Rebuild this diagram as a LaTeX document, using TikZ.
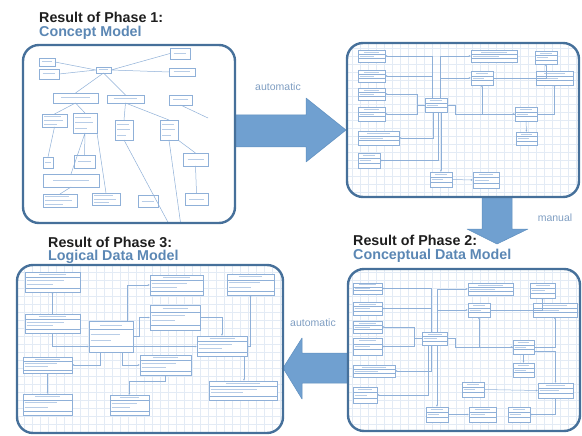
\documentclass[tikz,border=0pt]{standalone}
\usepackage{fontspec}
\setmainfont{Liberation Sans}
\usetikzlibrary{arrows.meta,calc}
\definecolor{PMRim}{HTML}{46709A}
\definecolor{PMArrow}{HTML}{70A0D0}
\definecolor{PMArrowEdge}{HTML}{5F8FBF}
\definecolor{PMInk}{HTML}{1E1E1E}
\definecolor{PMTitle}{HTML}{5B87B4}
\definecolor{PMLabel}{HTML}{7F9EC2}
\definecolor{PMLine}{HTML}{8FB0D8}
\definecolor{PMText}{HTML}{B8CDE7}
\definecolor{PMGrid}{HTML}{E3EBF5}
\tikzset{
  sz/.style 2 args={minimum width=#1,minimum height=#2},
  panel/.style={fill=white,anchor=north west,inner sep=0pt,outer sep=0pt,rounded corners=16pt},
  rim/.style={draw=PMRim,line width=2.4pt,rounded corners=16pt},
  bigarrow/.style={fill=PMArrow,draw=PMArrowEdge,line width=.5pt,line join=round},
  phasehead/.style={anchor=west,inner sep=0pt,text=PMInk,font=\fontsize{14.3}{16}\selectfont\bfseries},
  phasename/.style={phasehead,text=PMTitle},
  steplabel/.style={text=PMLabel,font=\fontsize{10.5}{12}\selectfont},
  gridlines/.style={draw=PMGrid,line width=.35pt},
  link/.style={PMLine,line width=.5pt},
  linkto/.style={link,-{Latex[length=2.2pt,width=2pt]}},
  box/.style={draw=PMLine,line width=.5pt,fill=white,anchor=north west,inner sep=0pt,outer sep=0pt},
  cbox/.style={box,path picture={
      \draw[PMText,line width=1pt] let \p1=(path picture bounding box.north west),
        \p2=(path picture bounding box.south east) in
        ({\x1+0.18*(\x2-\x1)},{0.5*(\y1+\y2)}) -- ({\x2-0.18*(\x2-\x1)},{0.5*(\y1+\y2)});}},
  cboxtall/.style={box,path picture={
      \draw[PMText,line width=1pt] let \p1=(path picture bounding box.north west),
        \p2=(path picture bounding box.south east) in
        ({\x1+2pt},{\y1+0.22*(\y2-\y1)}) -- ({\x1+0.75*(\x2-\x1)},{\y1+0.22*(\y2-\y1)})
        ({\x1+2pt},{\y1+0.5*(\y2-\y1)}) -- ({\x1+0.85*(\x2-\x1)},{\y1+0.5*(\y2-\y1)})
        ({\x1+2pt},{\y1+0.78*(\y2-\y1)}) -- ({\x1+0.6*(\x2-\x1)},{\y1+0.78*(\y2-\y1)});}},
  cls/.style={box,path picture={
      \draw[PMLine,line width=.4pt] let \p1=(path picture bounding box.north west),
        \p2=(path picture bounding box.south east) in
        (\x1,{\y1+0.34*(\y2-\y1)}) -- (\x2,{\y1+0.34*(\y2-\y1)})
        (\x1,{\y1+0.67*(\y2-\y1)}) -- (\x2,{\y1+0.67*(\y2-\y1)});
      \draw[PMText,line width=.9pt] let \p1=(path picture bounding box.north west),
        \p2=(path picture bounding box.south east) in
        ({\x1+0.22*(\x2-\x1)},{\y1+0.17*(\y2-\y1)}) -- ({\x2-0.22*(\x2-\x1)},{\y1+0.17*(\y2-\y1)})
        ({\x1+1.5pt},{\y1+0.5*(\y2-\y1)}) -- ({\x1+0.6*(\x2-\x1)},{\y1+0.5*(\y2-\y1)});}},
  tbl/.style={box,path picture={
      \draw[PMLine,line width=.4pt] let \p1=(path picture bounding box.north west),
        \p2=(path picture bounding box.south east) in
        (\x1,{\y1+0.28*(\y2-\y1)}) -- (\x2,{\y1+0.28*(\y2-\y1)})
        (\x1,{\y1+0.8*(\y2-\y1)}) -- (\x2,{\y1+0.8*(\y2-\y1)});
      \draw[PMText,line width=.9pt] let \p1=(path picture bounding box.north west),
        \p2=(path picture bounding box.south east) in
        ({\x1+0.25*(\x2-\x1)},{\y1+0.14*(\y2-\y1)}) -- ({\x2-0.25*(\x2-\x1)},{\y1+0.14*(\y2-\y1)})
        ({\x1+1.5pt},{\y1+0.42*(\y2-\y1)}) -- ({\x1+0.7*(\x2-\x1)},{\y1+0.42*(\y2-\y1)})
        ({\x1+1.5pt},{\y1+0.62*(\y2-\y1)}) -- ({\x1+0.5*(\x2-\x1)},{\y1+0.62*(\y2-\y1)});}},
}
\begin{document}
\begin{tikzpicture}[x=1pt,y=-1pt]
  \useasboundingbox (0,0) rectangle (582,436);

  % titles
  \node[phasehead] (t1) at (39,17) {Result of Phase 1:};
  \node[phasename] (n1) at (39,33) {Concept Model};
  \node[phasehead] (t2) at (353,240) {Result of Phase 2:};
  \node[phasename] (n2) at (353,256) {Conceptual Data Model};
  \node[phasehead] (t3) at (48,242) {Result of Phase 3:};
  \node[phasename] (n3) at (48,257) {Logical Data Model};

  % block arrows between the phases
  \fill[bigarrow] (233,115) -- (306,115) -- (306,98) -- (346,130) -- (306,162)
    -- (306,147) -- (233,147) -- cycle;
  \fill[bigarrow] (482,196) -- (482,229) -- (467,229) -- (497,244) -- (528,229)
    -- (512,229) -- (512,196) -- cycle;
  \fill[bigarrow] (351,353) -- (302,353) -- (302,338) -- (283,368) -- (302,399)
    -- (302,383) -- (351,383) -- cycle;
  \node[steplabel] (a1) at (278,87) {automatic};
  \node[steplabel] (a2) at (555,218) {manual};
  \node[steplabel] (a3) at (313,323) {automatic};

  % phase 1: concept model
  \node[panel,sz={212}{178}] (pone) at (23,45) {};
  \begin{scope}
    \clip[rounded corners=16pt] (pone.north west) rectangle (pone.south east);
    \node[cbox,sz={16}{8}] (c1) at (39,58) {};
    \node[cbox,sz={20}{10}] (c2) at (39,69) {};
    \node[cbox,sz={15}{6}] (c0) at (96,67) {};
    \node[cbox,sz={20}{11}] (c3) at (170,48) {};
    \node[cbox,sz={26}{8}] (c4) at (169,68) {};
    \node[cbox,sz={45}{10}] (c5) at (53,93) {};
    \node[cbox,sz={37}{8}] (c6) at (107,95) {};
    \node[cbox,sz={23}{10}] (c7) at (169,95) {};
    \node[cboxtall,sz={25}{13}] (c8) at (42,114) {};
    \node[cboxtall,sz={24}{20}] (c9) at (73,113) {};
    \node[cboxtall,sz={18}{20}] (c10) at (115,120) {};
    \node[cboxtall,sz={18}{20}] (c11) at (160,120) {};
    \node[cbox,sz={10}{11}] (c12) at (43,157) {};
    \node[cbox,sz={21}{13}] (c13) at (74,155) {};
    \node[cbox,sz={25}{13}] (c14) at (183,153) {};
    \node[cbox,sz={56}{13}] (c15) at (43,174) {};
    \node[cboxtall,sz={34}{13}] (c16) at (43,194) {};
    \node[cboxtall,sz={28}{12}] (c17) at (92,193) {};
    \node[cbox,sz={20}{12}] (c18) at (138,195) {};
    \node[cbox,sz={23}{12}] (c19) at (185,193) {};
    \coordinate (c7end) at (208,118);
    \coordinate (cbot1) at (170,226);
    \coordinate (cbot2) at (181,226);
    \draw[link] (c1.east) -- (c0.west) (c2.east) -- (c0.west)
      (c0.east) -- (c3.west) (c0.east) -- (c4.west)
      (c0.south) -- (c5.north) (c0.south) -- (c6.north)
      (c5.south) -- (c8.north) (c5.south) -- (c9.north)
      (c6.south) -- (c10.north) (c6.south) -- (c11.north)
      (c7.south) -- (c7end)
      (c8.south) -- (c12.north) (c9.south) -- (c13.north)
      (c9.south) -- (c15.north) (c9.south east) -- (c17.north)
      (c10.south) -- (cbot1) (c11.south) -- (cbot2)
      (c11.south east) -- (c14.north) (c14.south) -- (c19.north)
      (c15.south) -- (c16.north);
  \end{scope}
  \draw[rim] (pone.north west) rectangle (pone.south east);

  % phase 2: conceptual data model
  \node[panel,sz={232}{154}] (ptwo) at (347,43) {};
  \begin{scope}
    \clip[rounded corners=16pt] (ptwo.north west) rectangle (ptwo.south east);
    \draw[gridlines] (ptwo.north west) grid[step=8pt] (ptwo.south east);
    \node[cls,sz={27}{12}] (m1) at (358,50) {};
    \node[cls,sz={27}{12}] (m2) at (358,70) {};
    \node[cls,sz={27}{12}] (m3) at (358,88) {};
    \node[cls,sz={27}{14}] (m4) at (358,107) {};
    \node[cls,sz={41}{14}] (m5) at (358,131) {};
    \node[cls,sz={22}{15}] (m6) at (358,153) {};
    \node[cls,sz={22}{14}] (m0) at (425,98) {};
    \node[cls,sz={46}{12}] (m7) at (471,50) {};
    \node[cls,sz={22}{14}] (m8) at (471,71) {};
    \node[cls,sz={22}{13}] (m9) at (535,51) {};
    \node[cls,sz={37}{14}] (m10) at (536,71) {};
    \node[cls,sz={22}{14}] (m11) at (515,107) {};
    \node[cls,sz={21}{13}] (m12) at (516,132) {};
    \node[cls,sz={22}{15}] (m13) at (430,172) {};
    \node[cls,sz={26}{16}] (m14) at (473,172) {};
    \draw[linkto] ([xshift=-4pt]m0.north) |- (m1.east);
    \draw[linkto] ([xshift=-4pt]m0.north) |- (m2.east);
    \draw[linkto] (m0.west) -- ++(-8pt,0) |- (m3.east);
    \draw[linkto] (m0.west) -- ++(-8pt,0) |- (m4.east);
    \draw[linkto] ([xshift=-3pt]m0.south) |- (m5.east);
    \draw[linkto] ([xshift=2pt]m0.south) |- (m6.east);
    \draw[linkto] ([xshift=4pt]m0.north) |- (m7.west);
    \draw[linkto] ([xshift=4pt]m0.north) |- (m8.west);
    \draw[linkto] (m8.east) -| (m9.south);
    \draw[linkto] (m0.east) -- ++(8pt,0) |- (m11.west);
    \draw[linkto] (m11.west) -| (m8.south);
    \draw[linkto] (m11.east) -| (m10.south);
    \draw[linkto] (m11.south) -- (m12.north);
    \draw[linkto] (m0.south -| m13.north) -- (m13.north);
    \draw[linkto] (m13.east) -- (m14.west);
  \end{scope}
  \draw[rim] (ptwo.north west) rectangle (ptwo.south east);

  % phase 3: logical data model
  \node[panel,sz={266}{168}] (pthree) at (17,265) {};
  \begin{scope}
    \clip[rounded corners=16pt] (pthree.north west) rectangle (pthree.south east);
    \draw[gridlines] (pthree.north west) grid[step=8pt] (pthree.south east);
    \node[tbl,sz={55}{20}] (l1) at (25,272) {};
    \node[tbl,sz={53}{20}] (l2) at (150,275) {};
    \node[tbl,sz={47}{21}] (l3) at (227,274) {};
    \node[tbl,sz={55}{19}] (l4) at (25,314) {};
    \node[tbl,sz={44}{31}] (l5) at (89,321) {};
    \node[tbl,sz={50}{25}] (l6) at (150,305) {};
    \node[tbl,sz={50}{20}] (l7) at (197,336) {};
    \node[tbl,sz={49}{16}] (l8) at (23,357) {};
    \node[tbl,sz={51}{20}] (l9) at (140,355) {};
    \node[tbl,sz={68}{19}] (l10) at (209,381) {};
    \node[tbl,sz={49}{21}] (l11) at (23,394) {};
    \node[tbl,sz={39}{20}] (l12) at (110,395) {};
    \draw[linkto] (l4.north) -- (l1.south);
    \draw[linkto] (l4.south) |- ([yshift=-10pt]l5.west);
    \draw[linkto] ([yshift=-10pt]l5.east) -- ([yshift=-10pt]l5.east -| l7.west);
    \draw[linkto] ([xshift=-6pt]l5.north east) |- (l2.west);
    \draw[linkto] (l5.east) -- ++(6pt,0) |- (l6.west);
    \draw[linkto] (l6.east) -| (l7.north);
    \draw[linkto] (l7.east) -| (l3.south);
    \draw[linkto] ([xshift=-11pt]l5.south) |- (l8.east);
    \draw[linkto] ([xshift=11pt]l5.south) |- (l9.west);
    \draw[linkto] (l8.south) -- (l11.north);
    \draw[linkto] (l9.south) -- ++(0,-6pt) -| (l12.north);
    \draw[linkto] ([xshift=-3pt]l7.south east) -- ([xshift=-3pt]l7.south east |- l10.north);
  \end{scope}
  \draw[rim] (pthree.north west) rectangle (pthree.south east);

  % phase 2 result: conceptual data model
  \node[panel,sz={232}{162}] (pfour) at (348,269) {};
  \begin{scope}
    \clip[rounded corners=16pt] (pfour.north west) rectangle (pfour.south east);
    \draw[gridlines] (pfour.north west) grid[step=8pt] (pfour.south east);
    \node[cls,sz={29}{11}] (d1) at (353,283) {};
    \node[cls,sz={29}{13}] (d2) at (353,302) {};
    \node[cls,sz={29}{12}] (d3) at (353,321) {};
    \node[cls,sz={29}{17}] (d4) at (353,338) {};
    \node[cls,sz={42}{12}] (d5) at (353,365) {};
    \node[cls,sz={24}{16}] (d6) at (353,387) {};
    \node[cls,sz={25}{13}] (d0) at (422,332) {};
    \node[cls,sz={45}{12}] (d7) at (468,283) {};
    \node[cls,sz={22}{14}] (d8) at (468,303) {};
    \node[cls,sz={25}{15}] (d9) at (530,283) {};
    \node[cls,sz={44}{14}] (d10) at (533,303) {};
    \node[cls,sz={21}{14}] (d11) at (513,340) {};
    \node[cls,sz={21}{14}] (d12) at (513,363) {};
    \node[cls,sz={22}{15}] (d13) at (462,382) {};
    \node[cls,sz={35}{15}] (d14) at (538,383) {};
    \node[cls,sz={22}{15}] (d15) at (426,407) {};
    \node[cls,sz={27}{15}] (d16) at (469,407) {};
    \node[cls,sz={22}{15}] (d17) at (508,407) {};
    \draw[linkto] ([xshift=-3pt]d0.north) |- (d1.east);
    \draw[linkto] ([xshift=-3pt]d0.north) |- (d2.east);
    \draw[linkto] (d0.west) -- ++(-8pt,0) |- (d3.east);
    \draw[linkto] (d0.west) -- ++(-8pt,0) |- (d4.east);
    \draw[linkto] ([xshift=-3pt]d0.south) |- (d5.east);
    \draw[linkto] ([xshift=-6pt]d0.south) |- (d6.east);
    \draw[linkto] ([xshift=3pt]d0.north) |- (d7.west);
    \draw[linkto] ([xshift=3pt]d0.north) |- (d8.west);
    \draw[linkto] (d8.east) -| (d9.south);
    \draw[linkto] (d0.east) -- ++(8pt,0) |- (d11.west);
    \draw[linkto] (d11.west) -| (d8.south);
    \draw[linkto] (d11.east) -| (d10.south);
    \draw[linkto] (d11.south) -- (d12.north);
    \draw[linkto] ([yshift=-4pt]d11.east) -| (d14.north);
    \draw[linkto] (d13.east) -- (d14.west);
    \draw[linkto] (d0.south -| d15.north) -- (d15.north);
    \draw[linkto] (d15.east) -- (d16.west);
    \draw[linkto] (d14.south) |- (d17.east);
  \end{scope}
  \draw[rim] (pfour.north west) rectangle (pfour.south east);
\end{tikzpicture}
\end{document}
